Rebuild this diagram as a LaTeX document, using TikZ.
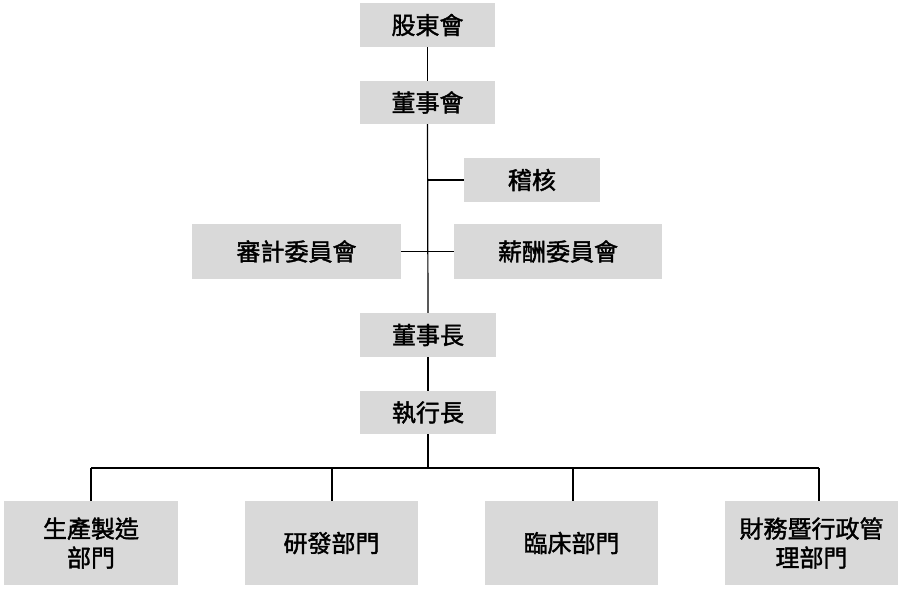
\documentclass[tikz,border=0pt]{standalone}
\usepackage{fontspec}
\setmainfont{Noto Sans CJK TC}[FakeBold=1.6]
\begin{document}
\begin{tikzpicture}[x=1pt,y=-1pt,
  box/.style={rectangle,fill=boxgray,inner sep=0pt,align=center,font=\fontsize{24}{29}\selectfont},
  conn/.style={draw=black,line width=1.2pt}]
\definecolor{boxgray}{HTML}{D9D9D9}
\useasboundingbox (0,0) rectangle (902,590);
\node[box,minimum width=135,minimum height=44] (gd) at (427.5,25) {股東會};
\node[box,minimum width=135,minimum height=43] (dsh) at (427.5,102.5) {董事會};
\node[box,minimum width=136,minimum height=44] (jh) at (532,180) {稽核};
\node[box,minimum width=209,minimum height=55] (sj) at (296.5,251.5) {審計委員會};
\node[box,minimum width=208,minimum height=55] (xc) at (558,251.5) {薪酬委員會};
\node[box,minimum width=136,minimum height=44] (dsz) at (428,335) {董事長};
\node[box,minimum width=136,minimum height=43] (ceo) at (428,412.5) {執行長};
\node[box,minimum width=174,minimum height=84] (b1) at (91,543) {生產製造\\部門};
\node[box,minimum width=173,minimum height=84] (b2) at (331.5,543) {研發部門};
\node[box,minimum width=173,minimum height=84] (b3) at (571.5,543) {臨床部門};
\node[box,minimum width=173,minimum height=84] (b4) at (811.5,543) {財務暨行政管\\理部門};
\coordinate (j1) at (428,180);
\coordinate (bus) at (428,468);
\coordinate (d1) at (91,468);
\coordinate (d2) at (332,468);
\coordinate (d3) at (573,468);
\coordinate (d4) at (819,468);
\draw[conn] (gd.south) -- (dsh.north);
\draw[conn] (dsh.south) -- (dsz.north);
\draw[conn] (j1) -- (jh.west);
\draw[conn] (sj.east) -- (xc.west);
\draw[conn] (dsz.south) -- (ceo.north);
\draw[conn] (ceo.south) -- (bus);
\draw[conn] (d1) -- (d4);
\draw[conn] (d1) -- (b1.north);
\draw[conn] (d2) -- (d2 |- b2.north);
\draw[conn] (d3) -- (d3 |- b3.north);
\draw[conn] (d4) -- (d4 |- b4.north);
\end{tikzpicture}
\end{document}
